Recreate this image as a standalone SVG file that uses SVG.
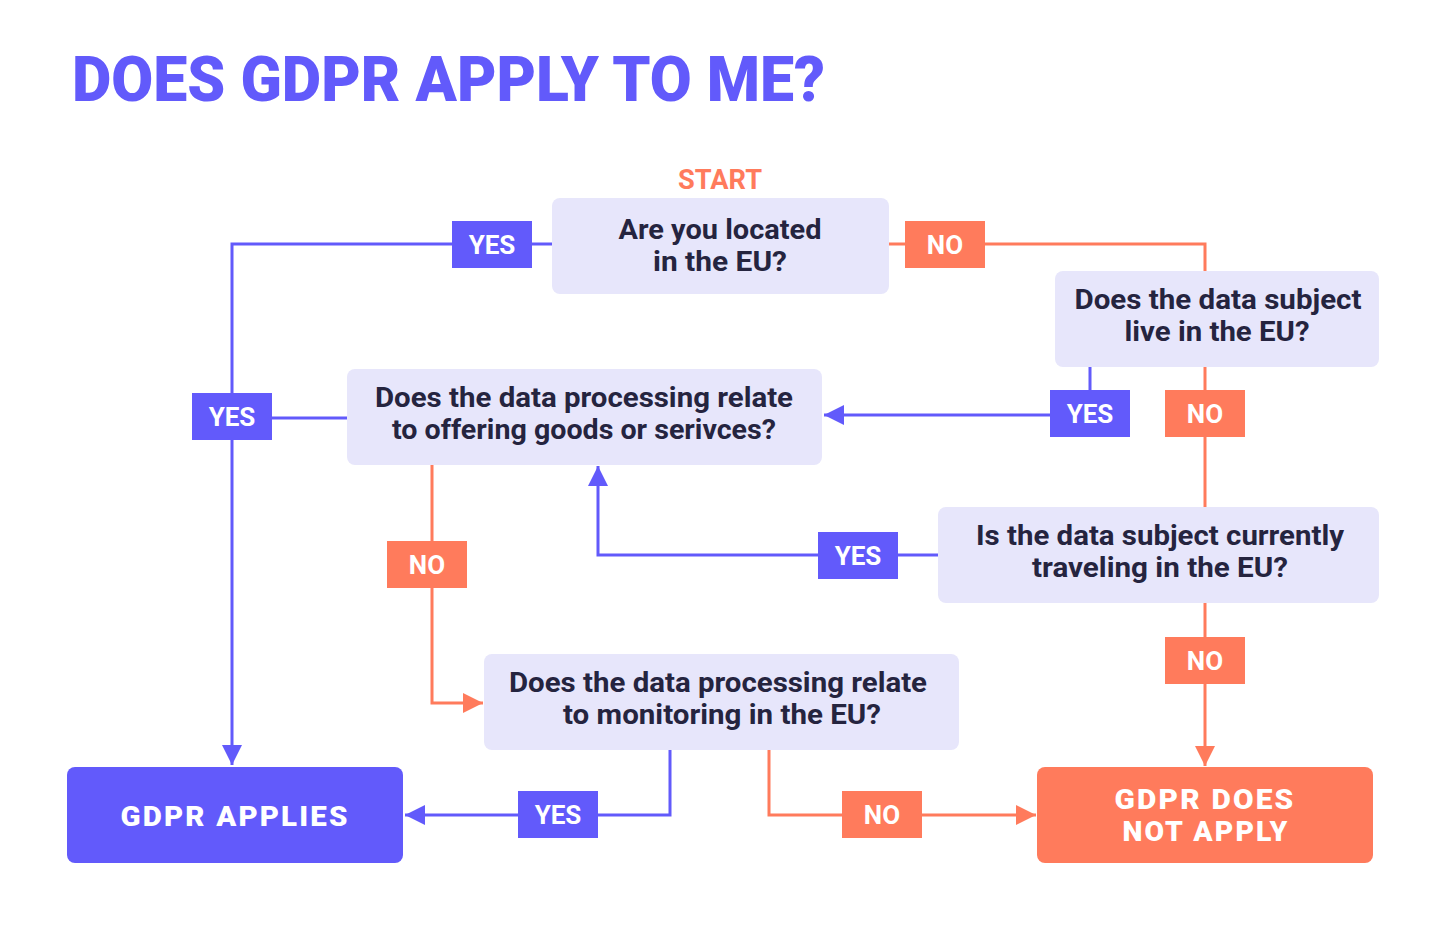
<svg xmlns="http://www.w3.org/2000/svg" width="1444" height="926" viewBox="0 0 1444 926">
<defs>
<style>
.q{fill:#E7E6FB}
.t{font-family:Roboto,"Liberation Sans",sans-serif;font-weight:700;font-size:27px;fill:#25243F;text-anchor:middle}
.lbl{font-family:Roboto,"Liberation Sans",sans-serif;font-weight:700;font-size:26px;fill:#FFFFFF;text-anchor:middle}
.end{font-family:Roboto,"Liberation Sans",sans-serif;font-weight:900;font-size:27px;fill:#FFFFFF;text-anchor:middle;letter-spacing:2px}
.p{fill:#625AFB}
.o{fill:#FF7B5C}
.lp{stroke:#625AFB;stroke-width:3;fill:none}
.lo{stroke:#FF7B5C;stroke-width:3;fill:none}
</style>
<marker id="ap" viewBox="0 0 10 10" refX="10" refY="5" markerWidth="20" markerHeight="20" markerUnits="userSpaceOnUse" orient="auto"><path d="M0,0 L10,5 L0,10 z" fill="#625AFB"/></marker>
<marker id="ao" viewBox="0 0 10 10" refX="10" refY="5" markerWidth="20" markerHeight="20" markerUnits="userSpaceOnUse" orient="auto"><path d="M0,0 L10,5 L0,10 z" fill="#FF7B5C"/></marker>
</defs>
<rect width="1444" height="926" fill="#FFFFFF"/>
<text x="72" y="101" font-family="Roboto,'Liberation Sans',sans-serif" font-weight="900" font-size="63" fill="#625AFB" textLength="753" lengthAdjust="spacingAndGlyphs">DOES GDPR APPLY TO ME?</text>
<text x="720" y="189" font-family="Roboto,'Liberation Sans',sans-serif" font-weight="700" font-size="27" fill="#FF7B5C" text-anchor="middle" textLength="84" lengthAdjust="spacingAndGlyphs">START</text>

<g id="connectors">
<polyline class="lp" points="552,244 232,244 232,765" marker-end="url(#ap)"/>
<line class="lp" x1="347" y1="418" x2="232" y2="418"/>
<polyline class="lo" points="889,244 1205,244 1205,271"/>
<polyline class="lp" points="1090,367 1090,415 824,415" marker-end="url(#ap)"/>
<line class="lo" x1="1205" y1="367" x2="1205" y2="507"/>
<polyline class="lp" points="938,555 598,555 598,466" marker-end="url(#ap)"/>
<line class="lo" x1="1205" y1="603" x2="1205" y2="766" marker-end="url(#ao)"/>
<polyline class="lo" points="432,465 432,703 483,703" marker-end="url(#ao)"/>
<polyline class="lp" points="670,750 670,815 405,815" marker-end="url(#ap)"/>
<polyline class="lo" points="769,750 769,815 1036,815" marker-end="url(#ao)"/>
</g>

<g id="labels">
<rect class="p" x="452" y="221" width="80" height="47"/><text class="lbl" x="492" y="254">YES</text>
<rect class="o" x="905" y="221" width="80" height="47"/><text class="lbl" x="945" y="254">NO</text>
<rect class="p" x="192" y="393" width="80" height="47"/><text class="lbl" x="232" y="426">YES</text>
<rect class="p" x="1050" y="390" width="80" height="47"/><text class="lbl" x="1090" y="423">YES</text>
<rect class="o" x="1165" y="390" width="80" height="47"/><text class="lbl" x="1205" y="423">NO</text>
<rect class="p" x="818" y="532" width="80" height="47"/><text class="lbl" x="858" y="565">YES</text>
<rect class="o" x="387" y="541" width="80" height="47"/><text class="lbl" x="427" y="574">NO</text>
<rect class="o" x="1165" y="637" width="80" height="47"/><text class="lbl" x="1205" y="670">NO</text>
<rect class="p" x="518" y="791" width="80" height="47"/><text class="lbl" x="558" y="824">YES</text>
<rect class="o" x="842" y="791" width="80" height="47"/><text class="lbl" x="882" y="824">NO</text>
</g>

<g id="q1">
<rect class="q" x="552" y="198" width="337" height="96" rx="8"/>
<text class="t" x="720" y="239" textLength="203" lengthAdjust="spacingAndGlyphs">Are you located</text>
<text class="t" x="720" y="271" textLength="134" lengthAdjust="spacingAndGlyphs">in the EU?</text>
</g>
<g id="q2">
<rect class="q" x="1055" y="271" width="324" height="96" rx="8"/>
<text class="t" x="1218" y="309" textLength="287" lengthAdjust="spacingAndGlyphs">Does the data subject</text>
<text class="t" x="1217" y="341" textLength="185" lengthAdjust="spacingAndGlyphs">live in the EU?</text>
</g>
<g id="q3">
<rect class="q" x="347" y="369" width="475" height="96" rx="8"/>
<text class="t" x="584" y="407" textLength="418" lengthAdjust="spacingAndGlyphs">Does the data processing relate</text>
<text class="t" x="584" y="439" textLength="384" lengthAdjust="spacingAndGlyphs">to offering goods or serivces?</text>
</g>
<g id="q4">
<rect class="q" x="938" y="507" width="441" height="96" rx="8"/>
<text class="t" x="1160" y="545" textLength="368" lengthAdjust="spacingAndGlyphs">Is the data subject currently</text>
<text class="t" x="1160" y="577" textLength="256" lengthAdjust="spacingAndGlyphs">traveling in the EU?</text>
</g>
<g id="q5">
<rect class="q" x="484" y="654" width="475" height="96" rx="8"/>
<text class="t" x="718" y="692" textLength="418" lengthAdjust="spacingAndGlyphs">Does the data processing relate</text>
<text class="t" x="722" y="724" textLength="318" lengthAdjust="spacingAndGlyphs">to monitoring in the EU?</text>
</g>
<g id="applies">
<rect class="p" x="67" y="767" width="336" height="96" rx="8"/>
<text class="end" x="235" y="826" textLength="229" lengthAdjust="spacingAndGlyphs">GDPR APPLIES</text>
</g>
<g id="notapply">
<rect class="o" x="1037" y="767" width="336" height="96" rx="8"/>
<text class="end" x="1205" y="809" textLength="181" lengthAdjust="spacingAndGlyphs">GDPR DOES</text>
<text class="end" x="1206" y="841" textLength="167" lengthAdjust="spacingAndGlyphs">NOT APPLY</text>
</g>
</svg>
